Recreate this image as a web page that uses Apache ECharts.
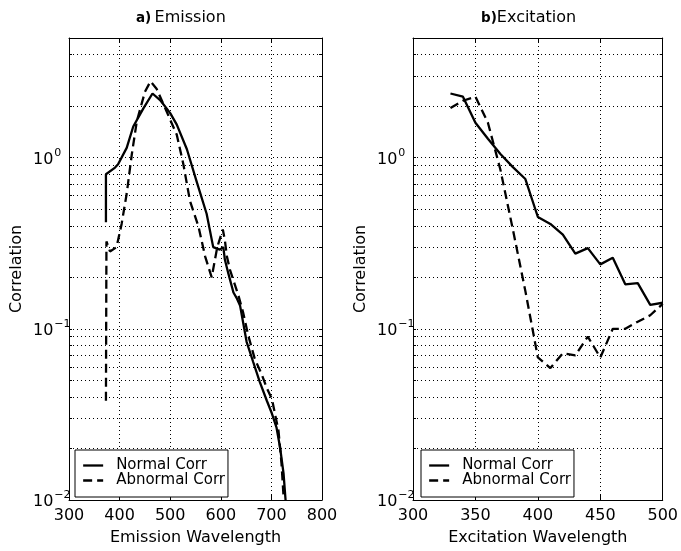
<!DOCTYPE html>
<html><head><meta charset="utf-8">
<script src="https://cdn.jsdelivr.net/npm/echarts@6/dist/echarts.min.js"></script>
<style>html,body{margin:0;padding:0;background:#fff}#c{width:681px;height:551px}</style>
</head><body><div id="c"></div>
<script>
// ---- data ----
const emNormalX = [373, 373, 391, 397, 414, 427, 447, 465, 480, 500, 513, 533, 552, 572, 585, 598, 605, 608, 615, 625, 632, 638, 651, 664, 677, 691, 701, 710, 717, 724, 728];
const emNormalY = [0.42, 0.80, 0.875, 0.915, 1.14, 1.52, 1.94, 2.37, 2.17, 1.82, 1.56, 1.12, 0.73, 0.47, 0.30, 0.29, 0.30, 0.254, 0.21, 0.163, 0.15, 0.137, 0.084, 0.064, 0.049, 0.038, 0.032, 0.0266, 0.0204, 0.0143, 0.010];
const emAbnormalX = [373, 374, 381, 394, 404, 414, 424, 434, 450, 461, 473, 493, 513, 526, 539, 556, 569, 582, 593, 604, 608, 612, 618, 635, 644, 654, 667, 681, 691, 701, 707, 714, 720, 724];
const emAbnormalY = [0.038, 0.324, 0.283, 0.30, 0.41, 0.615, 1.04, 1.63, 2.42, 2.79, 2.53, 1.86, 1.36, 0.915, 0.56, 0.395, 0.265, 0.20, 0.30, 0.38, 0.33, 0.265, 0.222, 0.156, 0.125, 0.092, 0.067, 0.054, 0.045, 0.039, 0.032, 0.0254, 0.0163, 0.0105];
const exX = [330, 340, 350, 360, 370, 380, 390, 400, 410, 420, 430, 440, 450, 460, 470, 480, 490, 500];
const exNormalY = [2.37, 2.27, 1.6, 1.29, 1.05, 0.88, 0.75, 0.45, 0.41, 0.355, 0.275, 0.296, 0.238, 0.26, 0.182, 0.185, 0.138, 0.142];
const exAbnormalY = [1.95, 2.15, 2.27, 1.6, 0.85, 0.38, 0.166, 0.068, 0.059, 0.072, 0.07, 0.09, 0.068, 0.10, 0.10, 0.11, 0.12, 0.14];
const seriesNames = ['Normal Corr', 'Abnormal Corr'];
const titles = ['a)', 'Emission', 'b)', 'Excitation'];
const xNames = ['Emission Wavelength', 'Excitation Wavelength'];
const yName = 'Correlation';
const minorGridVals = [0.02,0.03,0.04,0.05,0.06,0.07,0.08,0.09,0.2,0.3,0.4,0.5,0.6,0.7,0.8,0.9,2,3,4];
const yTickVals = [0.01,0.02,0.03,0.04,0.05,0.06,0.07,0.08,0.09,0.1,0.2,0.3,0.4,0.5,0.6,0.7,0.8,0.9,1,2,3,4];

const FONT = 'DejaVu Sans';
const zip = (xs, ys) => xs.map((x, i) => [x, ys[i]]);

const grids = [
  {left: 69, top: 38, width: 253, height: 469},
  {left: 413, top: 38, width: 252, height: 469}
];
const xRanges = [{min: 300, max: 800, interval: 100}, {min: 300, max: 500, interval: 50}];
const dotted = {color: '#000', width: 1, type: [1, 3]};

function yLabelFmt(v) {
  const l = Math.log10(v), e = Math.round(l);
  if (Math.abs(l - e) > 1e-6) return '';
  return '{b|10}{s|' + (e < 0 ? '\u2212' + (-e) : e) + '}';
}

const xAxes = [], yAxes = [];
[0, 1].forEach(g => {
  xAxes.push({
    type: 'value', gridIndex: g, position: 'bottom', min: xRanges[g].min, max: xRanges[g].max, interval: xRanges[g].interval,
    name: xNames[g], nameLocation: 'middle', nameGap: 30,
    nameTextStyle: {fontFamily: FONT, fontSize: 16, color: '#000'},
    axisLine: {show: true, lineStyle: {color: '#000', width: 1}},
    axisTick: {show: true, inside: true, length: 5, lineStyle: {color: '#000'}},
    axisLabel: {fontFamily: FONT, fontSize: 16, color: '#000', margin: 8},
    splitLine: {show: true, lineStyle: dotted}
  });
  xAxes.push({
    type: 'value', gridIndex: g, position: 'top', min: xRanges[g].min, max: xRanges[g].max, interval: xRanges[g].interval,
    axisLine: {show: true, lineStyle: {color: '#000', width: 1}},
    axisTick: {show: true, inside: true, length: 5, lineStyle: {color: '#000'}},
    axisLabel: {show: false}, splitLine: {show: false}
  });
  yAxes.push({
    type: 'log', logBase: 10, gridIndex: g, position: 'left', min: 0.01, max: 5, interval: 1,
    name: yName, nameLocation: 'middle', nameGap: 44,
    nameTextStyle: {fontFamily: FONT, fontSize: 16, color: '#000'},
    axisLine: {show: true, lineStyle: {color: '#000', width: 1}},
    axisTick: {show: true, inside: true, length: 3, customValues: yTickVals, lineStyle: {color: '#000'}},
    axisLabel: {
      formatter: yLabelFmt, align: 'left', margin: 36, color: '#000',
      rich: {
        b: {fontFamily: FONT, fontSize: 16, color: '#000', verticalAlign: 'bottom'},
        s: {fontFamily: FONT, fontSize: 11, color: '#000', verticalAlign: 'bottom', padding: [0, 0, 9, 1]}
      }
    },
    splitLine: {show: true, lineStyle: dotted}
  });
  yAxes.push({
    type: 'log', logBase: 10, gridIndex: g, position: 'right', min: 0.01, max: 5, interval: 1,
    axisLine: {show: true, lineStyle: {color: '#000', width: 1}},
    axisTick: {show: true, inside: true, length: 3, customValues: yTickVals, lineStyle: {color: '#000'}},
    axisLabel: {show: false}, splitLine: {show: false}
  });
});

const solid = {color: '#000', width: 2.3, type: 'solid'};
const dashed = {color: '#000', width: 2.3, type: [9, 5]};
const gridMark = {
  silent: true, symbol: 'none', label: {show: false}, animation: false,
  lineStyle: dotted, emphasis: {disabled: true},
  data: minorGridVals.map(v => ({yAxis: v}))
};

const series = [
  {name: seriesNames[0], type: 'line', xAxisIndex: 0, yAxisIndex: 0, data: zip(emNormalX, emNormalY), symbol: 'none', lineStyle: solid, itemStyle: {color: '#000'}, markLine: gridMark, z: 3},
  {name: seriesNames[1], type: 'line', xAxisIndex: 0, yAxisIndex: 0, data: zip(emAbnormalX, emAbnormalY), symbol: 'none', lineStyle: dashed, itemStyle: {color: '#000'}, z: 3},
  {name: seriesNames[0], type: 'line', xAxisIndex: 2, yAxisIndex: 2, data: zip(exX, exNormalY), symbol: 'none', lineStyle: solid, itemStyle: {color: '#000'}, markLine: gridMark, z: 3},
  {name: seriesNames[1], type: 'line', xAxisIndex: 2, yAxisIndex: 2, data: zip(exX, exAbnormalY), symbol: 'none', lineStyle: dashed, itemStyle: {color: '#000'}, z: 3}
];

const legendBase = {
  data: seriesNames, orient: 'vertical', top: 450,
  backgroundColor: '#fff', borderColor: '#000', borderWidth: 1, borderRadius: 0,
  padding: [8, 3, 9, 7], itemGap: 0, itemWidth: 20, itemHeight: 13,
  itemStyle: {opacity: 0, borderWidth: 0},
  lineStyle: {width: 2.3},
  textStyle: {fontFamily: FONT, fontSize: 15, lineHeight: 13, color: '#000', padding: [0, 0, 0, 8]},
  selectedMode: false
};

const titleRich = {a: {fontFamily: FONT, fontSize: 13.5, fontWeight: 'bold', fill: '#000'}, b: {fontFamily: FONT, fontSize: 16, fill: '#000'}};
const chart = echarts.init(document.getElementById('c'), null, {renderer: 'canvas'});
chart.setOption({
  animation: false,
  backgroundColor: '#fff',
  textStyle: {fontFamily: FONT},
  grid: grids,
  xAxis: xAxes,
  yAxis: yAxes,
  legend: [Object.assign({left: 75}, legendBase), Object.assign({left: 421}, legendBase)],
  graphic: [
    {type: 'text', left: 136, top: 10, style: {text: '{a|' + titles[0] + '} {b|' + titles[1] + '}', rich: titleRich}},
    {type: 'text', left: 481, top: 10, style: {text: '{a|' + titles[2] + '}{b|' + titles[3] + '}', rich: titleRich}}
  ],
  series: series
});
</script></body></html>
